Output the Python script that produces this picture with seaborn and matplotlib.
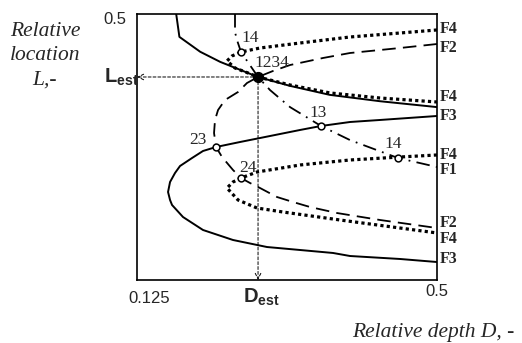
import numpy as np
import pandas as pd
import matplotlib
matplotlib.use('Agg')
import matplotlib.pyplot as plt
import seaborn as sns

# curves: D = relative depth (x), L = relative location (y)
f1_d = [0.2475, 0.2475, 0.25, 0.255, 0.2625, 0.2763, 0.2913, 0.3163, 0.355, 0.3913, 0.4513, 0.5]
f1_l = [0.5, 0.466, 0.451, 0.4286, 0.412, 0.3816, 0.357, 0.325, 0.2895, 0.263, 0.2293, 0.2124]

f2_d = [0.5, 0.4538, 0.3913, 0.3575, 0.3163, 0.295, 0.2763, 0.2625, 0.2513, 0.235, 0.2263, 0.2225,
        0.2213, 0.2238, 0.2313, 0.245, 0.255, 0.2663, 0.2788, 0.3, 0.32, 0.3413, 0.375, 0.4288, 0.5]
f2_l = [0.4436, 0.4361, 0.4267, 0.4173, 0.4041, 0.3929, 0.3816, 0.3703, 0.3534, 0.3383, 0.3195, 0.3008,
        0.2763, 0.25, 0.2312, 0.2068, 0.1917, 0.1823, 0.1729, 0.156, 0.1466, 0.1372, 0.1259, 0.1128, 0.0977]

f3a_d = [0.174, 0.178, 0.204, 0.229, 0.254, 0.2763, 0.316, 0.366, 0.429, 0.5]
f3a_l = [0.5, 0.457, 0.429, 0.41, 0.395, 0.3816, 0.365, 0.348, 0.336, 0.325]

f3b_d = [0.5, 0.4288, 0.3913, 0.355, 0.3288, 0.2788, 0.2538, 0.2238, 0.2075, 0.1938, 0.1788, 0.1725,
         0.1663, 0.1638, 0.1663, 0.1688, 0.1825, 0.2075, 0.245, 0.2875, 0.3288, 0.37, 0.3913, 0.4538, 0.5]
f3b_l = [0.3083, 0.3008, 0.297, 0.2895, 0.282, 0.2669, 0.2594, 0.25, 0.2425, 0.2293, 0.2143, 0.2011,
         0.1842, 0.1654, 0.1504, 0.141, 0.1184, 0.094, 0.0752, 0.062, 0.0564, 0.0508, 0.0451, 0.0395, 0.0338]

f4a_d = [0.5, 0.4538, 0.3913, 0.3288, 0.2788, 0.255, 0.2438, 0.2375, 0.2475, 0.2638, 0.2763,
         0.3163, 0.3663, 0.4288, 0.5]
f4a_l = [0.47, 0.4643, 0.4568, 0.4455, 0.4361, 0.4286, 0.4211, 0.4117, 0.3985, 0.3891, 0.3816,
         0.3666, 0.3516, 0.3421, 0.3346]

f4b_d = [0.5, 0.4538, 0.3913, 0.3288, 0.275, 0.255, 0.245, 0.2375, 0.2513, 0.275, 0.3075, 0.3788, 0.4538, 0.5]
f4b_l = [0.235, 0.2312, 0.2256, 0.2162, 0.203, 0.1917, 0.1842, 0.1729, 0.1504, 0.1353, 0.1278, 0.1128, 0.0977, 0.0884]

# intersection points
pt_names = ['14', '13', '23', '24', '14']
pt_d = [0.255, 0.355, 0.2238, 0.255, 0.4513]
pt_l = [0.4286, 0.2895, 0.25, 0.1917, 0.2293]
pt_lab_d = [0.2665, 0.3513, 0.2013, 0.2638, 0.445]
pt_lab_l = [0.455, 0.314, 0.263, 0.21, 0.256]

d_est, l_est = 0.2763, 0.3816

f_names = ['F4', 'F2', 'F4', 'F3', 'F4', 'F1', 'F2', 'F4', 'F3']
f_lab_l = [0.4718, 0.4361, 0.344, 0.3083, 0.235, 0.2068, 0.1071, 0.0771, 0.0395]

sns.set_style('white')
plt.rcParams['font.family'] = ['Liberation Serif', 'DejaVu Serif']
plt.rcParams['mathtext.fontset'] = 'custom'
plt.rcParams['mathtext.rm'] = 'Liberation Sans'
plt.rcParams['mathtext.bf'] = 'Liberation Sans:bold'

fig = plt.figure(figsize=(5.22, 3.43), dpi=100)
ax = fig.add_axes([137 / 522, 63 / 343, 300 / 522, 266 / 343])

dotted = (0, (1, 1))
dashed = (0, (7.5, 4))
dashdot = (0, (7.5, 3.5, 1, 3.5))

sns.lineplot(x=f3a_d, y=f3a_l, sort=False, estimator=None, color='k', lw=1.4, ax=ax)
sns.lineplot(x=f3b_d, y=f3b_l, sort=False, estimator=None, color='k', lw=1.4, ax=ax)
sns.lineplot(x=f2_d, y=f2_l, sort=False, estimator=None, color='k', lw=1.3, linestyle=dashed, ax=ax)
sns.lineplot(x=f1_d, y=f1_l, sort=False, estimator=None, color='k', lw=1.3, linestyle=dashdot, ax=ax)
sns.lineplot(x=f4a_d, y=f4a_l, sort=False, estimator=None, color='k', lw=2.3, linestyle=dotted, ax=ax)
sns.lineplot(x=f4b_d, y=f4b_l, sort=False, estimator=None, color='k', lw=2.3, linestyle=dotted, ax=ax)

# guide lines to the estimate
ax.annotate('', xy=(0.125, l_est), xytext=(d_est, l_est), annotation_clip=False,
            arrowprops=dict(arrowstyle='->', color='k', lw=0.7, linestyle=(0, (3, 2)), shrinkA=0, shrinkB=0))
ax.annotate('', xy=(d_est, 0), xytext=(d_est, l_est), annotation_clip=False,
            arrowprops=dict(arrowstyle='->', color='k', lw=0.7, linestyle=(0, (3, 2)), shrinkA=0, shrinkB=0))

sns.scatterplot(x=pt_d, y=pt_l, s=24, color='white', edgecolor='k', linewidth=1.1, zorder=5, ax=ax)
ax.scatter([d_est], [l_est], s=50, color='k', zorder=6)

for name, x, y in zip(pt_names, pt_lab_d, pt_lab_l):
    ax.text(x, y, name, fontsize=12.5, ha='center', va='center')
ax.text(0.2938, 0.408, '1234', fontsize=12.5, ha='center', va='center')

for name, y in zip(f_names, f_lab_l):
    ax.text(0.5035, y, name, fontsize=11.5, fontweight='bold', ha='left', va='center', clip_on=False)

ax.set_xlim(0.125, 0.5)
ax.set_ylim(0, 0.5)
ax.set_xticks([])
ax.set_yticks([])
for s in ax.spines.values():
    s.set_color('k')
    s.set_linewidth(1.2)

ax.text(-0.073, 0.98, '0.5', transform=ax.transAxes, family='Liberation Sans', fontsize=12, ha='center', va='center')
ax.text(0.04, -0.07, '0.125', transform=ax.transAxes, family='Liberation Sans', fontsize=12, ha='center', va='center')
ax.text(1.0, -0.045, '0.5', transform=ax.transAxes, family='Liberation Sans', fontsize=12, ha='center', va='center')
ax.text(0.127, l_est, r'$\mathbf{L}_{\mathbf{est}}$', fontsize=14.5, ha='right', va='center', clip_on=False)
ax.text(d_est + 0.004, -0.032, r'$\mathbf{D}_{\mathbf{est}}$', fontsize=14.5, ha='center', va='center', clip_on=False)

fig.text(45 / 522, 1 - 31 / 343, 'Relative', style='italic', fontsize=15.5, ha='center', va='center')
fig.text(45 / 522, 1 - 56 / 343, 'location', style='italic', fontsize=15.5, ha='center', va='center')
fig.text(45 / 522, 1 - 80 / 343, 'L,-', style='italic', fontsize=15.5, ha='center', va='center')
fig.text(433 / 522, 1 - 332 / 343, 'Relative depth D, -', style='italic', fontsize=15.5, ha='center', va='center')

fig.savefig('out.png', dpi=100)
